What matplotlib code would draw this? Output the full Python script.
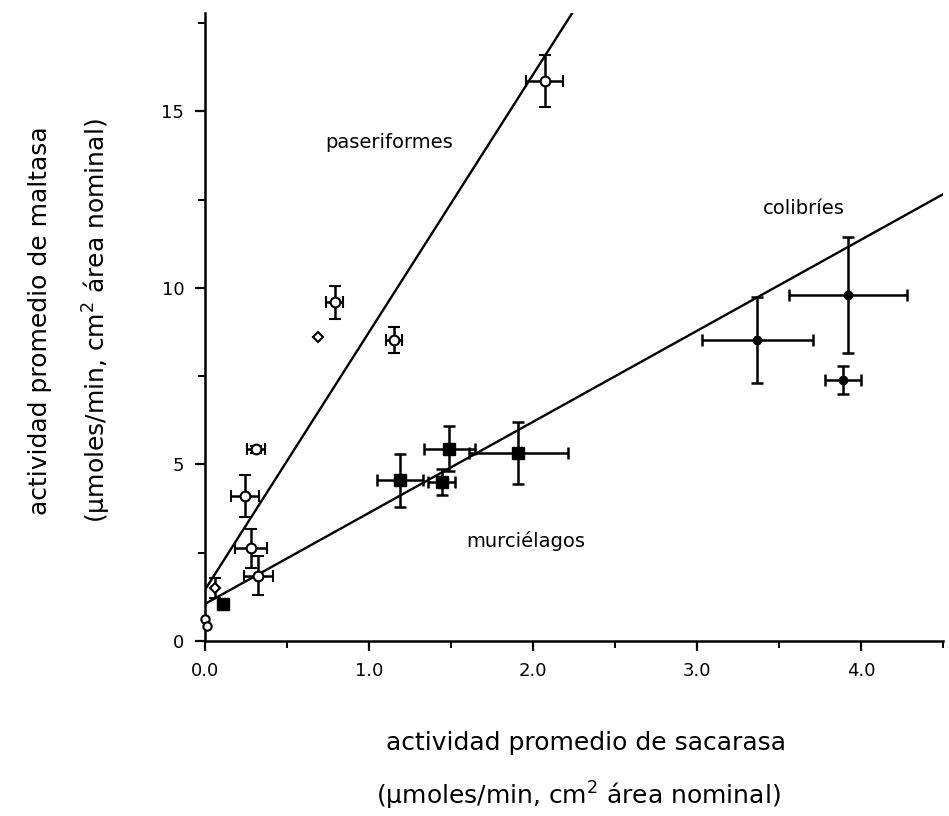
import numpy as np
import matplotlib
matplotlib.use("Agg")
import matplotlib.pyplot as plt
from matplotlib.ticker import MultipleLocator

# paseriformes (open circles, with error bars)
pas_x = [2.07, 0.79, 1.153, 0.31, 0.244, 0.28, 0.325]
pas_y = [15.87, 9.59, 8.53, 5.43, 4.10, 2.63, 1.85]
pas_xerr = [0.115, 0.05, 0.05, 0.055, 0.087, 0.10, 0.09]
pas_yerr = [0.73, 0.48, 0.36, 0.10, 0.60, 0.55, 0.55]

# paseriformes without error bars (small diamonds / circles)
pas_dia_x = [0.69, 0.06]
pas_dia_y = [8.60, 1.50]
pas_dia_yerr = [0.0, 0.27]
pas_zero_x = [0.0, 0.01]
pas_zero_y = [0.62, 0.43]

# murcielagos (filled squares)
bat_x = [0.11, 1.187, 1.49, 1.443, 1.91]
bat_y = [1.05, 4.55, 5.45, 4.50, 5.33]
bat_xerr = [0.0, 0.14, 0.155, 0.083, 0.30]
bat_yerr = [0.0, 0.75, 0.63, 0.36, 0.88]

# colibries (filled circles)
hum_x = [3.366, 3.92, 3.89]
hum_y = [8.53, 9.81, 7.39]
hum_xerr = [0.337, 0.36, 0.11]
hum_yerr = [1.21, 1.64, 0.40]

# regression lines (end points)
pas_line_x = [0.0, 2.30]
pas_line_y = [1.45, 18.24]
nec_line_x = [0.0, 4.50]
nec_line_y = [1.05, 12.66]

fig = plt.figure(figsize=(9.49, 8.16), dpi=100)
ax = fig.add_axes([0.216, 0.2145, 0.778, 0.770])

lw = 1.8
ax.plot(pas_line_x, pas_line_y, color='black', lw=1.7, zorder=2)
ax.plot(nec_line_x, nec_line_y, color='black', lw=1.7, zorder=2)

eb = dict(ecolor='black', elinewidth=1.8, capsize=4, capthick=1.8, linestyle='none', zorder=3)
ax.errorbar(pas_x, pas_y, xerr=pas_xerr, yerr=pas_yerr, fmt='o', ms=7,
            mfc='white', mec='black', mew=1.5, **eb)
ax.errorbar(pas_dia_x, pas_dia_y, yerr=pas_dia_yerr, fmt='D', ms=5,
            mfc='white', mec='black', mew=1.5, **eb)
ax.plot(pas_zero_x, pas_zero_y, 'o', ms=6, mfc='white', mec='black', mew=1.5,
        clip_on=False, zorder=4)
ax.errorbar(bat_x, bat_y, xerr=bat_xerr, yerr=bat_yerr, fmt='s', ms=8,
            mfc='black', mec='black', **eb)
ax.errorbar(hum_x, hum_y, xerr=hum_xerr, yerr=hum_yerr, fmt='o', ms=6,
            mfc='black', mec='black', **eb)

ax.text(1.12, 14.12, 'paseriformes', fontsize=14, ha='center', va='center')
ax.text(3.65, 12.24, 'colibríes', fontsize=14, ha='center', va='center')
ax.text(1.955, 2.84, 'murciélagos', fontsize=14, ha='center', va='center')

ax.set_xlim(0, 4.5)
ax.set_ylim(0, 17.8)
ax.xaxis.set_minor_locator(MultipleLocator(0.5))
ax.yaxis.set_minor_locator(MultipleLocator(2.5))
ax.set_xticks([0, 1, 2, 3, 4])
ax.set_xticklabels(['0.0', '1.0', '2.0', '3.0', '4.0'])
ax.set_yticks([0, 5, 10, 15])
ax.tick_params(which='major', direction='out', length=7, width=1.6, labelsize=13, pad=8)
ax.tick_params(which='minor', direction='out', length=5, width=1.4)

for s in ['top', 'right']:
    ax.spines[s].set_visible(False)
for s in ['left', 'bottom']:
    ax.spines[s].set_linewidth(lw)

fig.text(0.618, 0.0895, 'actividad promedio de sacarasa', fontsize=18,
         ha='center', va='center')
fig.text(0.609, 0.025, '(µmoles/min, cm$^{2}$ área nominal)', fontsize=18,
         ha='center', va='center')
fig.text(0.042, 0.607, 'actividad promedio de maltasa', fontsize=18,
         ha='center', va='center', rotation=90)
fig.text(0.102, 0.607, '(µmoles/min, cm$^{2}$ área nominal)', fontsize=18,
         ha='center', va='center', rotation=90)

fig.savefig('out.png', dpi=100)
